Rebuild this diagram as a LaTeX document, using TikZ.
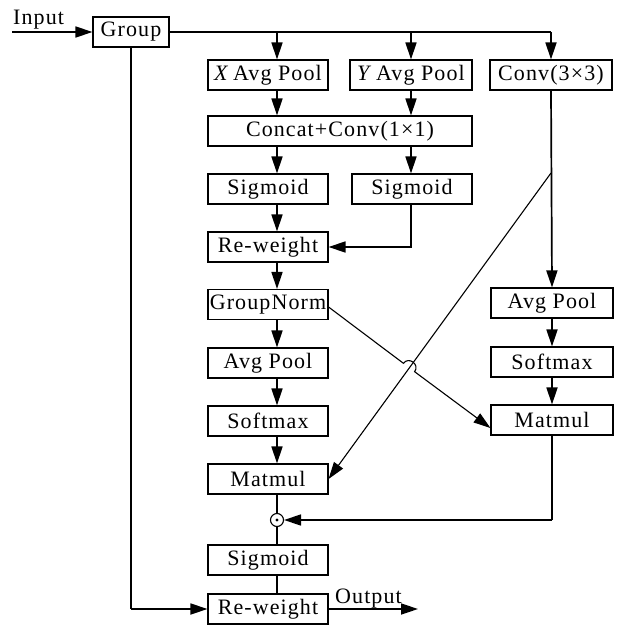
\documentclass[tikz,border=0pt]{standalone}
\usepackage{fontspec}
\setmainfont{Liberation Serif}[LetterSpace=5]
\usetikzlibrary{arrows.meta}
\begin{document}
\begin{tikzpicture}[x=1pt,y=-1pt,
  font=\fontsize{22}{26}\selectfont,
  box/.style={draw,line width=1.1pt,minimum height=30pt,inner sep=0pt,anchor=center},
  arr/.style={line width=1.7pt,-{Triangle[length=17pt,width=11pt]}},
  ln/.style={line width=1.7pt},
  thin/.style={line width=1.1pt},
  thinarr/.style={line width=1.1pt,-{Triangle[length=17pt,width=11pt]}}]
\useasboundingbox (0,0) rectangle (618,626);
% nodes
\node[box,minimum width=76pt] (group) at (131,32) {Group};
\node[box,minimum width=120pt] (xap) at (268,75) {\textit{X}\,Avg Pool};
\node[box,minimum width=122pt] (yap) at (411,75) {\textit{Y}\,Avg Pool};
\node[box,minimum width=122pt] (conv) at (551,75) {Conv(3×3)};
\node[box,minimum width=264pt] (cat) at (340,131) {Concat+Conv(1×1)};
\node[box,minimum width=120pt] (sig1) at (268,189) {Sigmoid};
\node[box,minimum width=120pt] (sig2) at (412,189) {Sigmoid};
\node[box,minimum width=120pt] (rw1) at (268,247) {Re-weight};
\node[box,minimum width=120pt] (gn) at (268,304.5) {GroupNorm};
\node[box,minimum width=120pt] (ap1) at (268,363) {Avg Pool};
\node[box,minimum width=120pt] (sm1) at (268,421) {Softmax};
\node[box,minimum width=120pt] (mm1) at (268,479) {Matmul};
\node[circle,draw,line width=1.1pt,minimum size=13pt,inner sep=0pt] (dot) at (277,520) {};
\fill (dot.center) circle (1.6pt);
\node[box,minimum width=120pt] (sig3) at (268,560) {Sigmoid};
\node[box,minimum width=120pt] (rw2) at (268,609) {Re-weight};
\node[box,minimum width=122pt] (ap2) at (552,303) {Avg Pool};
\node[box,minimum width=122pt] (sm2) at (552,362) {Softmax};
\node[box,minimum width=122pt] (mm2) at (552,420) {Matmul};
\node[anchor=base west,inner sep=0pt] (inlbl) at (13,25) {Input};
\node[anchor=base west,inner sep=0pt] (outlbl) at (335,603) {Output};
% coordinates
\coordinate (inp) at (12,32);
\coordinate (cx) at (277,0);
\coordinate (tr) at (551,32);
\coordinate (out) at (418,609);
\coordinate (dstart) at (551,173);
% connectors
\draw[arr] (inp) -- (group.west);
\draw[ln] (group.east) -- (tr);
\draw[arr] (tr) -- (conv.north);
\draw[arr] (group.east -| cx) -- (xap.north -| cx);
\draw[arr] (group.east -| yap.north) -- (yap.north);
\draw[arr] (xap.south -| cx) -- (cat.north -| cx);
\draw[arr] (yap.south) -- (cat.north -| yap.south);
\draw[arr] (cat.south -| cx) -- (sig1.north -| cx);
\draw[arr] (cat.south -| yap.south) -- (sig2.north -| yap.south);
\draw[arr] (sig1.south -| cx) -- (rw1.north -| cx);
\draw[arr] (sig2.south -| yap.south) |- (rw1.east);
\draw[arr] (rw1.south -| cx) -- (gn.north -| cx);
\draw[arr] (gn.south -| cx) -- (ap1.north -| cx);
\draw[arr] (ap1.south -| cx) -- (sm1.north -| cx);
\draw[arr] (sm1.south -| cx) -- (mm1.north -| cx);
\draw[thin] (mm1.south -| cx) -- (dot.north);
\draw[thin] (dot.south) -- (sig3.north -| cx);
\draw[thin] (sig3.south -| cx) -- (rw2.north -| cx);
\draw[arr] (conv.south) -- (ap2.north);
\draw[arr] (ap2.south) -- (sm2.north);
\draw[arr] (sm2.south) -- (mm2.north);
\draw[thin] (mm2.south) -- (mm2.south |- dot.east);
\draw[arr] (mm2.south |- dot.east) -- (dot.east);
\draw[thin] (group.south) -- (group.south |- rw2.west);
\draw[arr] (group.south |- rw2.west) -- (rw2.west);
\draw[arr] (rw2.east) -- (out);
\draw[thinarr] (dstart) -- (mm1.east);
\draw[thinarr] ([yshift=-2.5pt]gn.east) -- (403.4,363.3) .. controls (408.8,356.1) and (420,364.5) .. (414.6,371.7) -- ([yshift=-8pt]mm2.west);
\end{tikzpicture}
\end{document}
